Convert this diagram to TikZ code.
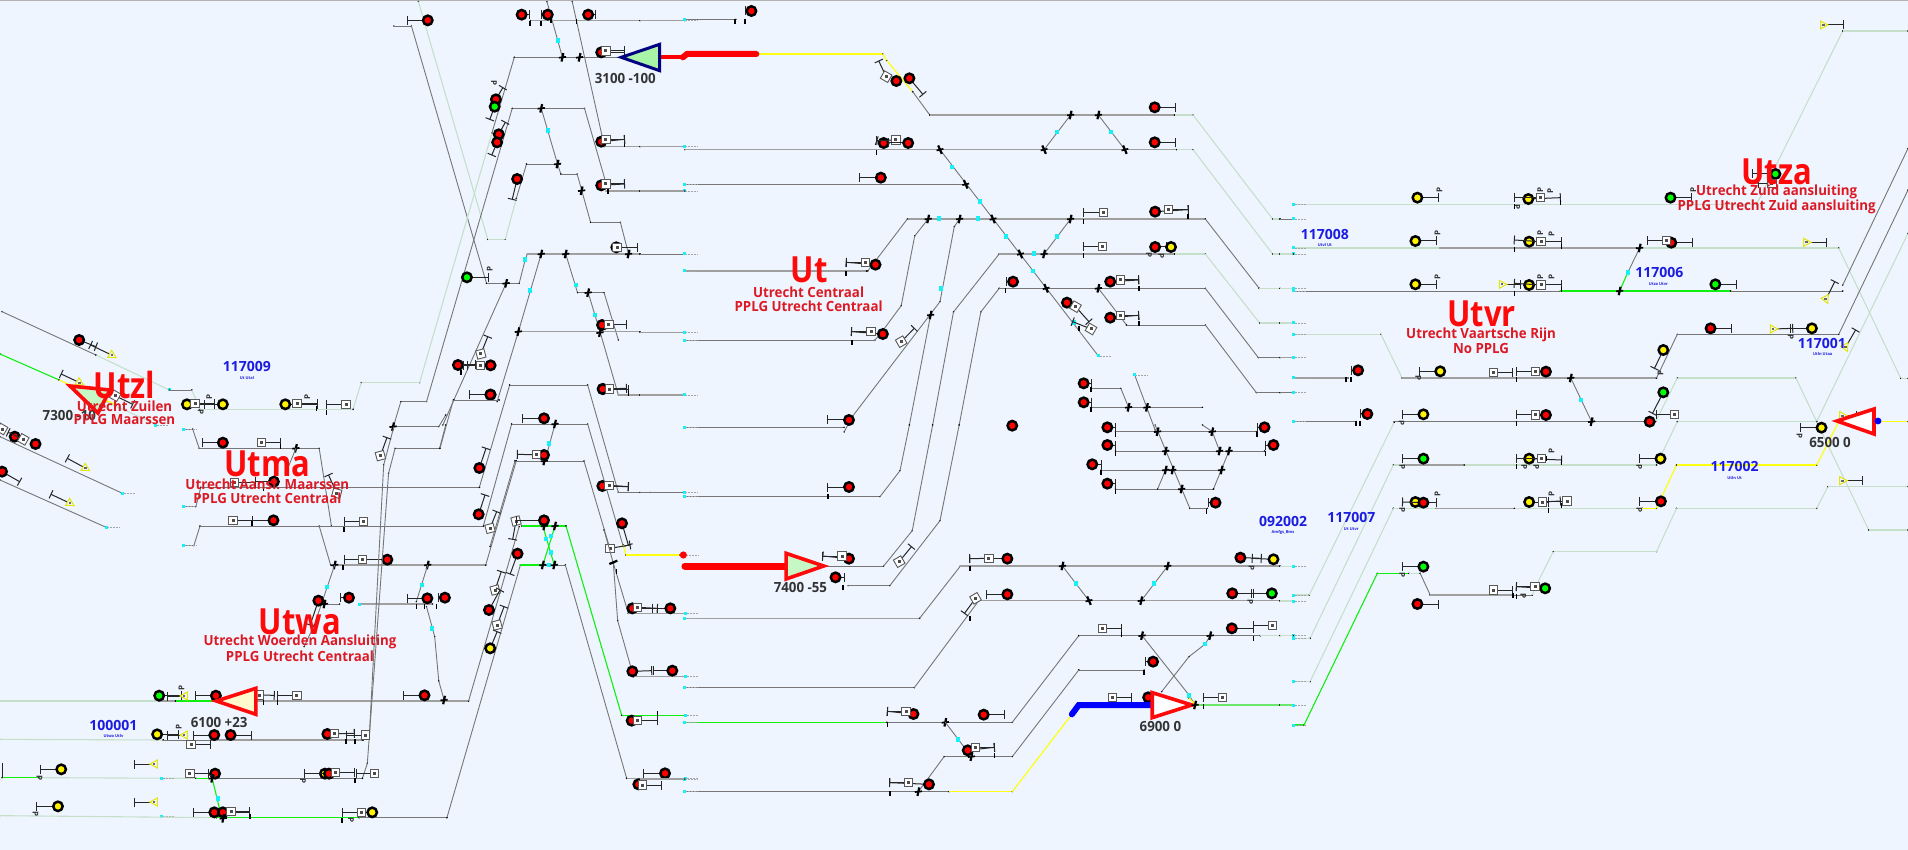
\documentclass[tikz,border=0pt]{standalone}
\usepackage{fontspec}
\setmainfont{Open Sans}
\newfontfamily\hd{Open Sans}[FakeStretch=.86]
\newfontfamily\hs{Open Sans}[FakeStretch=.95]
\usetikzlibrary{calc}
\definecolor{bgc}{HTML}{EEF5FF}
\definecolor{palec}{HTML}{C6DFCB}
\definecolor{trkc}{HTML}{767676}
\definecolor{grn}{HTML}{10F010}
\definecolor{yel}{HTML}{FFFF10}
\definecolor{redc}{HTML}{FF0A0A}
\definecolor{subr}{HTML}{DC1A24}
\definecolor{bluet}{HTML}{1C1CE0}
\definecolor{cyn}{HTML}{18F0F8}
\newcount\nc
\tikzset{
 tile/.style 2 args={shift={(#1pt,-#2pt)},x=0.40816pt,y=-0.33333pt},
 tilb/.style 2 args={shift={(#1pt,-#2pt)},x=0.40051pt,y=-0.33333pt},
 zm/.style 2 args={shift={(#1pt,-#2pt)},x=0.33333pt,y=-0.33333pt},
 trk/.style={draw=trkc,line width=.9pt},
 trw/.style={draw=trkc!70,line width=1.5pt},
 pal/.style={draw=palec,line width=1.1pt},
 gln/.style={draw=grn,line width=1.1pt},
 yln/.style={draw=yel,line width=1.2pt},
 stm/.style={draw=black!85,line width=1pt},
 sw/.style={draw=black,line width=2.2pt},
 sig/.style={circle,draw=black,line width=2.5pt,minimum size=9.4pt,inner sep=0pt},
 sqr/.style={rectangle,draw=black!65,fill=white,line width=.9pt,minimum size=8.5pt,inner sep=0pt},
 title/.style={font=\hd\fontsize{36}{36}\selectfont\bfseries,text=redc,inner sep=0pt},
 subt/.style={font=\hs\fontsize{14}{14}\selectfont\bfseries,text=subr,inner sep=0pt},
 numt/.style={font=\fontsize{14}{14}\selectfont\bfseries,text=bluet,inner sep=0pt},
 tinyt/.style={font=\fontsize{4}{4}\selectfont\bfseries,text=bluet,inner sep=0pt},
 dark/.style={font=\hs\fontsize{14}{14}\selectfont\bfseries,text=black!80,inner sep=0pt},
 bigt/.style={draw=redc,line width=3.6pt},
 pmark/.style={font=\fontsize{8}{8}\selectfont\bfseries,text=black!80,inner sep=0pt},
}
\newcommand\Nx{\global\advance\nc by 1 }
\newcommand\Tx[3]{\Nx\node[#1] (n\the\nc) at (#2) {#3};}
\newcommand\Tr[2][trk]{\foreach \p [count=\i] in {#2}{\ifnum\i>1 \draw[#1] \q -- \p;\fi
  \fill[black] \p circle[radius=.8pt]; \xdef\q{\p}}}
\newcommand\Stem[2]{\draw[stm] (#1) -- (#2);
  \draw[stm] ($(#2)!4.5pt!90:(#1)$) -- ($(#2)!4.5pt!-90:(#1)$);}
\newcommand\Sn[2]{\Tx{sig,fill=#2}{#1}{}}
\newcommand\Sg[3]{\Stem{#1}{#2}\Sn{#1}{#3}}
\newcommand\Sq[3][0]{\Stem{#2}{#3}\Tx{sqr,rotate=#1}{#2}{}\fill[black!70] (#2) ++(-1.5pt,-1.5pt) rectangle ++(3pt,3pt);}
\newcommand\Tt[3][0]{\Stem{#2}{#3}\draw[draw=yel!90!black,fill=bgc,line width=1pt,shift={(#2)},rotate=#1] (-3pt,4pt)--(4.5pt,0)--(-3pt,-4pt)--cycle;\fill[black!60,shift={(#2)}] (-1.5pt,-1pt) rectangle (1pt,1pt);}
\newcommand\Sw[1]{\draw[sw] (#1) ++(.9pt,4.2pt) -- ++(-1.8pt,-8.4pt);\draw[sw,line width=1.7pt] (#1) ++(-3.6pt,-.4pt) -- ++(7.2pt,.8pt);}
\newcommand\Sv[1]{\draw[sw] (#1) ++(-1.8pt,4.2pt) -- ++(3.6pt,-8.4pt);\draw[sw,line width=1.7pt] (#1) ++(-3.4pt,-.8pt) -- ++(6.8pt,1.6pt);}
\newcommand\Cy[1]{\fill[cyn] (#1) ++(-2pt,-2.4pt) rectangle ++(4pt,4.8pt);}
\newcommand\Ce[1]{\draw[black!35,line width=.5pt,densely dotted] (#1) -- ++(13pt,0);\fill[cyn] (#1) ++(-1.5pt,-1.5pt) rectangle ++(3pt,3pt);}
\newcommand\Tk[1]{\draw[black,line width=1.5pt] (#1) ++(0,2.5pt) -- ++(0,-5pt);}
\newcommand\Pm[1]{\Tx{rotate=90,pmark}{#1}{P}}
\newcommand\Dm[1]{\Tx{rotate=-90,pmark}{#1}{P}}
\begin{document}
\begin{tikzpicture}[x=1pt,y=-1pt]
\useasboundingbox (0,0) rectangle (1908,850);
\fill[bgc] (0,0) rectangle (1908,850);
\fill[black!30] (0,0) rectangle (1908,1.4);

%%%%% TILE 1
\begin{scope}[tile={0}{0}]
\Tr{(965,78),(1008,78),(1192,850),(1272,850),(1287,778),(1292,762)}
\Tr[pal]{(1025,5),(1195,718),(1238,718),(1265,595)}
\Tr{(1265,595),(1290,492),(1372,492)}
\Tr{(1374,522),(1366,492)}
\Tr{(1374,522),(1414,522),(1447,667),(1520,667),(1540,762)}
\Tr{(1326,325),(1366,492)}
\Tr{(1340,5),(1378,172)}
\Tr{(1402,5),(1480,435)}
\Tr{(1260,172),(1530,172)}
\Tr{(1260,172),(1205,400)}\Tr[pal]{(1205,400),(1028,1148),(885,1148),(865,1228)}
\Tr{(1255,325),(1432,325),(1490,572)}
\Tr{(1255,325),(1045,1205),(982,1205),(965,1275)}
\Tr[trw]{(1300,62),(1568,62)}
\Tr[trw]{(1480,440),(1568,440)}
\Tr[trw]{(1485,573),(1568,573)}
\Tr[trw]{(1292,762),(1568,762)}
\Tr{(1386,762),(1415,878),(1480,878),(1515,1020)}
\Tr{(1441,878),(1470,995),(1515,1185)}
\Tr[trw]{(1515,1185),(1568,1185)}
\Tr[trw]{(1270,995),(1568,995)}
\Tr{(1326,762),(1270,995),(1218,1205)}
\Tr{(1240,850),(1112,1200),(1085,1275)}
\Tr{(1112,1200),(1222,1200)}
\Tr[pal]{(235,1065),(415,1170)}
\Tr{(5,935),(235,1065)}
\Ce{415,1170}
\Tr{(415,1170),(470,1170)}
\Tr[pal]{(470,1170),(490,1228),(865,1228)}
\Tr[gln]{(0,1062),(145,1140)}
\Tr[yln]{(145,1140),(190,1165)}
\Tr[pal]{(250,1200),(380,1272)}
\Tr[yln]{(240,1190),(285,1215)}
\foreach \a/\b in {1366/121,1343/392,1287/778,1298/872,1410/855,1458/945}{\Cy{\a,\b}}
\Sw{1378,172}\Sw{1420,172}\Sw{1326,325}\Sw{1366,492}\Sw{1425,572}\Sw{1326,762}\Sw{1386,762}\Sw{1540,762}\Sw{1240,850}\Sw{1441,878}\Sw{1270,995}\Sw{1470,998}
\Tk{1298,70}\Tk{1326,70}\Tk{1412,65}\Tk{1350,62}\Tk{1490,575}\Tk{1530,435}\Tk{1130,1118}
\Sg{1048,61}{998,61}{red}
\Sg{1278,44}{1298,44}{red}\Sg{1342,44}{1326,44}{red}\Sg{1441,44}{1460,44}{red}
\Sg{1473,157}{1530,157}{red}\Sq{1484,153}{1530,153}
\Sg{1215,298}{1232,263}{red}\Sg{1212,320}{1200,358}{green}
\Dm{1210,250}
\Sg{1222,403}{1238,367}{red}\Sg{1218,427}{1205,465}{red}
\Sg{1267,537}{1255,598}{red}
\Sg{1473,425}{1530,418}{red}\Sq{1484,418}{1530,418}
\Sg{1473,556}{1530,552}{red}\Sq{1484,552}{1530,552}
\Sg{1510,742}{1562,742}{red}\Sq{1512,742}{1562,742}
\Sg{1144,832}{1196,832}{green}\Pm{1200,808}
\Sq[15]{1178,1062}{1195,1010}
\Sg{1122,1095}{1165,1095}{red}\Sg{1202,1096}{1145,1096}{red}\Sq{1177,1096}{1135,1096}
\Sg{1202,1184}{1150,1184}{red}
\Sg{1475,975}{1535,975}{red}\Sq{1492,973}{1535,973}
\Sg{1477,1167}{1535,1165}{red}\Sq{1492,1165}{1535,1165}
\Sg{194,1020}{235,1040}{red}\Tt[-30]{275,1066}{222,1035}
\Tt[-30]{195,1148}{150,1122}
\Sq[-30]{282,1187}{325,1213}
\Sg{458,1213}{525,1213}{yellow}\Sq{478,1210}{525,1210}\Pm{513,1190}\Dm{492,1235}
\Sg{546,1213}{500,1213}{yellow}
\Sg{699,1213}{778,1213}{yellow}\Sq{728,1210}{778,1210}\Pm{753,1190}\Tk{775,1225}
\Sq{848,1213}{800,1213}\Tk{800,1238}
\Tx{numt}{605,1100}{117009}
\Tx{tinyt}{605,1134}{Ut Utal}
\Tx{dark}{170,1247}{7300 -10}
\end{scope}

%%%%% TILE 2
\begin{scope}[tile={640}{0}]
\Tr[trw]{(0,62),(110,62)}\Tr{(110,58),(235,58)}\Ce{110,60}\Tk{233,65}\Tk{257,65}
\Sg{273,33}{258,33}{red}
\Tr[yln]{(285,162),(595,162),(605,182),(668,275)}
\Tr{(668,275),(710,345)}
\Tr[trw]{(710,345),(1310,345)}\Tr[pal]{(1310,345),(1355,345),(1550,657),(1568,657)}
\Sq[-30]{603,230}{585,183}
\Sn{628,243}{red}
\Sg{660,235}{693,283}{red}
\Tr[trw]{(0,440),(110,440)}\Ce{110,440}
\Tr[trw]{(110,449),(1315,449)}\Tr[pal]{(1315,449),(1355,449),(1550,762),(1568,762)}
\Sg{597,429}{580,422}{red}\Sq{627,420}{580,422}\Sg{657,429}{610,429}{red}\Tk{580,458}
\Tr{(1055,345),(990,449)}\Tr{(1123,345),(1188,449)}
\Cy{1022,396}\Cy{1155,396}
\Sg{1261,322}{1313,322}{red}\Sg{1261,427}{1313,427}{red}
\Tr{(735,449),(1123,1068)}\Ce{1123,1068}
\Tr{(110,553),(798,553)}\Ce{110,553}\Ce{110,573}\Tr[trw]{(0,573),(110,573)}
\Sg{590,533}{538,533}{red}
\Tr[trw]{(655,657),(1385,657)}\Tr{(1385,657),(1517,865)}\Tr[pal]{(1517,865),(1568,865)}
\Tr{(655,657),(558,813)}
\Tr{(0,762),(110,762)}\Ce{110,762}
\Tr[trw]{(110,813),(555,813)}\Ce{110,813}
\Sg{577,794}{505,787}{red}\Sq{552,787}{505,787}\Tk{505,820}
\Tr{(706,657),(673,708),(640,917),(590,1000),(575,1021),(110,1021)}\Ce{110,1021}
\Tr[trw]{(0,997),(110,997)}\Ce{110,997}
\Sg{595,1002}{518,995}{red}\Sq{566,995}{518,995}\Tk{519,1028}
\Tr{(783,657),(770,680),(735,905),(520,1250),(500,1296)}
\Tr{(712,945),(660,1275)}
\Tr[trw]{(0,1185),(110,1185)}\Ce{110,1185}
\Cy{738,866}
\Sw{712,945}
\Sq[30]{640,1025}{672,985}
\Tr{(880,762),(768,936),(717,1275)}
\Tr{(880,865),(835,936),(782,1275)}
\Tr[trw]{(880,762),(1310,762)}\Tr[pal]{(1310,762),(1385,762),(1518,969),(1568,969)}
\Tr{(1055,657),(990,762)}
\Tr{(880,865),(1385,865),(1515,1073),(1568,1073)}
\Tr{(1123,865),(1192,975),(1385,975),(1510,1178),(1568,1178)}
\foreach \a/\b in {765/501,833/605,897/709,962/813,732/655,828/655,1022/709,965/760,1063/968}{\Cy{\a,\b}}
\foreach \a/\b in {735/449,990/449,1188/449,798/553,865/657,932/762,995/865}{\Sv{\a,\b}}
\Sw{1055,345}\Sw{1123,345}\Sw{706,657}\Sw{783,657}\Sw{1055,657}\Sw{990,762}\Sw{1123,865}
\Sq{1135,637}{1087,637}\Tk{1087,665}
\Sq{1133,740}{1087,740}\Tk{1087,768}
\Sg{1262,635}{1343,629}{red}\Sq{1295,629}{1343,629}\Tk{1343,650}
\Sg{1262,741}{1290,741}{red}\Sn{1301,741}{yellow}\Dm{1247,765}\Dm{1277,768}
\Sg{914,845}{897,845}{red}\Tk{895,872}
\Sg{1152,845}{1222,840}{red}\Sq{1177,840}{1222,840}\Tk{1222,865}
\Sg{1152,953}{1222,946}{red}\Sq{1177,946}{1222,946}\Tk{1222,970}
\Sn{1046,908}{red}\Sq[-30]{1067,920}{1100,965}
\Sq[-30]{1105,987}{1060,965}\Tk{1075,985}
\Tr{(1105,1165),(1178,1165),(1197,1222)}
\Tr{(1105,1222),(1378,1222)}
\Tr{(1212,1125),(1262,1290)}\Ce{1212,1125}
\Sg{1087,1150}{1105,1150}{red}\Sg{1087,1207}{1105,1207}{red}\Sw{1197,1222}\Sw{1242,1222}
\Tk{1105,1170}\Tk{1105,1228}
\Sn{912,1277}{red}\Sg{512,1260}{460,1260}{red}
\end{scope}

%%%%% TILE 3
\begin{scope}[tilb={1280}{0}]
\Tr[pal]{(33,613),(1190,613),(1405,93),(1568,93)}
\Tr{(0,657),(33,657)}\Ce{33,657}
\Tr[pal]{(33,744),(1395,744),(1550,1135),(1568,1135)}
\Tr[trw]{(400,744),(890,744)}
\Ce{33,613}\Ce{33,744}\Ce{33,762}\Tr[pal]{(0,762),(33,762)}
\Tr[trk]{(33,873),(700,873)}\Tr[gln]{(700,873),(1125,873)}\Tr{(1125,873),(1405,873)}
\Tr[pal]{(0,865),(33,865)}\Ce{33,865}\Ce{33,873}
\Tr[gln]{(848,873),(868,818)}\Tr{(868,818),(898,744)}\Cy{868,818}
\Sw{848,873}\Sw{898,744}
\Tr{(1405,855),(1568,445)}
\Tr[pal]{(0,969),(33,969)}\Ce{33,969}
\Tr[pal]{(33,1003),(252,1003),(305,1134)}\Ce{33,1003}
\Tr[trw]{(0,1073),(33,1073)}\Ce{33,1073}
\Tr[trw]{(33,1134),(170,1134)}\Ce{33,1134}
\Tr{(0,1178),(33,1178)}\Ce{33,1178}
\Tr[trw]{(305,1134),(940,1134)}
\Tr{(940,1134),(992,1003),(1395,1003),(1568,570)}
\Tr[trk]{(33,1265),(190,1265)}\Ce{33,1265}
\Tr[trk]{(285,1265),(920,1265)}
\Tr[pal]{(992,1265),(1340,1265)}
\Tr[pal]{(992,1134),(1288,1134),(1340,1265),(1568,700)}
\Tr[pal]{(992,1134),(938,1265)}
\Tr[pal]{(992,1265),(940,1395)}
\Tr[pal]{(1340,1265),(1470,1590),(1568,1590)}
\Tr{(726,1134),(778,1265)}\Cy{752,1200}
\Sw{726,1134}\Sw{778,1265}
\Tr{(1178,550),(1235,550)}
\Sg{343,593}{395,593}{yellow}\Pm{398,570}
\Sg{620,597}{700,593}{yellow}\Sq{650,593}{585,593}\Pm{675,573}\Pm{650,570}\Dm{592,620}\Tk{585,620}\Tk{700,608}
\Sg{975,593}{1028,593}{green}\Pm{1032,570}
\Sg{1237,522}{1180,522}{green}\Sq{1228,550}{1195,550}
\Tt{1357,75}{1408,75}
\Sg{338,723}{390,723}{yellow}\Pm{393,700}
\Sg{622,725}{703,725}{yellow}\Sq{652,725}{585,720}\Pm{678,703}\Pm{650,700}\Tk{585,750}\Tk{703,740}
\Sg{977,728}{1030,728}{red}\Sq{965,722}{918,722}
\Tt{1315,727}{1365,727}
\Sg{338,853}{390,853}{yellow}\Pm{393,830}
\Tt{555,853}{600,853}
\Sg{622,855}{703,855}{yellow}\Sq{652,855}{585,850}\Pm{678,832}\Pm{650,830}\Tk{585,880}\Tk{703,868}
\Sg{1087,853}{1140,853}{green}
\Tt[-65]{1363,898}{1385,845}
\Sg{195,1111}{178,1111}{red}\Tk{165,1140}\Tk{177,1140}
\Sg{400,1114}{348,1114}{yellow}\Dm{345,1135}
\Sq{533,1118}{580,1118}
\Sg{664,1115}{590,1115}{red}\Sq{638,1115}{590,1115}\Tk{590,1140}
\Sg{957,1050}{935,1105}{yellow}\Pm{950,1118}
\Sg{1075,985}{1128,985}{red}
\Tt{1232,987}{1280,985}
\Sg{1328,985}{1275,985}{yellow}\Dm{1275,1010}
\Tt[-65]{1412,1042}{1437,990}
\Sg{218,1242}{200,1242}{red}\Tk{190,1270}\Tk{200,1270}
\Sg{358,1243}{305,1243}{yellow}\Dm{303,1268}
\Sg{664,1245}{590,1245}{red}\Sq{638,1245}{590,1245}\Tk{590,1270}
\Sq{985,1243}{940,1243}
\Sg{957,1177}{930,1240}{green}
\Sn{923,1265}{red}
\Tt{1405,1247}{1440,1247}
\Tr[yln]{(1493,1265),(1568,1265)}
\Tx{numt}{112,702}{117008}\Tx{tinyt}{112,735}{Utvl Ut}
\Tx{numt}{947,818}{117006}\Tx{tinyt}{945,852}{Utza Utvr}
\Tx{numt}{1353,1030}{117001}\Tx{tinyt}{1355,1062}{Utln Utaa}
\end{scope}

%%%%% TILE 4
\begin{scope}[tile={0}{425}]
\Tr{(0,35),(300,205)}\Ce{300,205}
\Tr{(0,165),(262,308)}\Ce{262,308}
\Ce{380,0}
\Sn{36,35}{red}\Sq[-30]{57,43}{20,22}\Sn{87,57}{red}\Sq[-30]{5,12}{-5,5}
\Tt[-30]{210,130}{165,100}
\Sg{5,140}{48,170}{red}\Tt[-30]{172,235}{125,208}
\Tr{(450,12),(472,12),(488,70),(782,70),(812,303)}\Ce{450,12}
\Tr{(450,245),(480,245),(492,187)}\Ce{450,245}
\Tr{(450,362),(475,362),(490,303),(1185,303)}\Ce{450,362}
\Tr{(492,187),(1175,187)}
\Sg{546,53}{495,53}{red}\Sq{640,52}{687,52}\Tk{687,65}
\Sw{725,70}\Tr{(725,70),(700,145)}
\Sg{671,170}{625,170}{red}\Sq{575,172}{625,172}\Tk{625,180}\Tk{645,190}
\Sg{670,286}{618,286}{red}\Sq{571,286}{618,286}\Tk{618,295}
\Sq[-15]{825,205}{805,150}
\Sq{890,290}{843,290}\Tk{843,312}
\Tr{(782,303),(810,420)}
\Tr[trw]{(820,420),(1190,420)}\Sw{820,420}\Sw{1048,420}
\Sg{949,404}{843,404}{red}\Sq{888,404}{843,404}\Tk{840,428}
\Tr{(820,420),(770,600),(745,665)}\Cy{800,486}
\Sg{780,527}{760,600}{red}\Sg{855,518}{835,518}{red}
\Tr{(795,537),(832,537)}\Sw{795,537}
\Tr[trw]{(880,537),(1060,537)}\Ce{880,537}
\Tr{(1048,420),(1020,530)}\Cy{1035,480}
\Tr{(1045,545),(1065,635),(1075,768),(1088,825)}\Cy{1058,610}
\Sg{1047,520}{998,520}{red}\Sg{1090,518}{1075,518}{red}\Tk{1020,545}\Tk{1040,545}\Tk{1070,545}
\Tr[pal]{(0,828),(390,828)}\Tr[trw]{(390,828),(430,828)}\Tr[gln]{(430,828),(525,828)}\Tr[trw]{(630,828),(1148,828)}
\Sg{390,812}{445,812}{green}\Pm{445,790}\Tt[180]{452,813}{410,813}
\Sg{529,812}{478,812}{red}
\Sq{727,811}{680,811}\Sq{635,810}{672,811}\Tk{645,832}\Tk{680,832}
\Sg{1040,811}{988,811}{red}\Sw{1088,825}
\Tr{(1148,828),(1272,305)}
\Tr{(1095,1178),(1275,420)}
\Tr{(1190,420),(1265,107)}
\Tr{(965,5),(1075,5),(1092,-30)}\Sw{963,5}
\Tr{(965,5),(940,120),(905,930),(890,945)}
\Tr{(1077,70),(968,70),(952,145),(900,1015),(888,1060)}\Tr{(1077,70),(1092,0)}
\Sq[15]{932,92}{948,38}
\Tr[pal]{(0,943),(400,945)}\Tr{(400,945),(530,945)}\Tr[trw]{(530,945),(888,945)}
\Sg{385,928}{438,928}{yellow}\Pm{438,905}\Tt[180]{452,930}{410,930}
\Sg{525,930}{475,930}{red}\Sq{468,958}{515,958}\Sg{565,930}{615,930}{red}
\Sg{802,927}{868,925}{red}\Sq{820,925}{868,925}\Sq{895,930}{850,930}\Tk{848,950}\Tk{870,950}
\Tr[gln]{(5,1058),(95,1058)}\Tr[pal]{(95,1058),(480,1060)}\Tr[gln]{(480,1060),(520,1060)}\Tr[trk]{(520,1060),(888,1060)}
\draw[stm] (5,1015)--(5,1060);
\Ce{395,1060}\Ce{395,1175}
\Sg{150,1033}{100,1033}{yellow}\Dm{97,1058}
\Tt[180]{378,1017}{330,1017}
\Sg{527,1046}{465,1046}{red}\Sq{465,1046}{510,1046}\Dm{520,1055}
\Sn{796,1046}{yellow}\Sg{806,1046}{745,1046}{red}\Sq{822,1042}{868,1042}\Dm{742,1068}
\Sq{918,1046}{873,1046}\Tk{870,1065}
\Tr[gln]{(520,1060),(543,1178)}\Cy{535,1120}\Sw{520,1060}
\Tr[pal]{(0,1172),(530,1178)}\Tr[gln]{(530,1178),(880,1178)}\Tr{(880,1178),(1095,1178)}
\Sg{142,1144}{90,1144}{yellow}\Dm{87,1167}
\Tt[180]{378,1131}{330,1131}
\Sg{525,1162}{475,1162}{red}\Sg{546,1162}{612,1162}{red}\Sq{566,1160}{612,1160}\Sw{547,1180}\Tk{612,1175}
\Sg{912,1162}{840,1162}{yellow}\Sq{885,1162}{840,1162}\Dm{860,1185}\Tk{838,1185}
\Sq[15]{1213,495}{1228,440}\Sg{1198,555}{1225,495}{red}
\Sq[15]{1218,600}{1235,545}\Sg{1201,670}{1218,620}{yellow}
\Sg{1268,386}{1250,447}{red}
\Tr[gln]{(1275,420),(1330,420)}\Tr{(1330,420),(1385,420)}
\Tr[gln]{(1330,303),(1358,420)}\Tr[gln]{(1360,303),(1330,420)}
\foreach \a/\b in {1338/342,1350/333,1350/383,1345/420}{\Cy{\a,\b}}
\Sw{1330,420}\Sw{1358,420}
\Tx{numt}{278,900}{100001}\Tx{tinyt}{278,934}{Utwa Utlv}
\end{scope}

%%%%% cluster x 440..650, y 380..550
\begin{scope}[zm={440}{380}]
\Tr{(209,15),(118,322)}\Tr{(209,15),(443,15)}
\Tr{(443,15),(535,337),(630,337)}
\Tr{(215,132),(130,438)}\Tr{(215,132),(443,132),(550,500)}
\Tr{(225,243),(432,243),(508,500)}
\Tr{(225,243),(150,500)}
\Tr[gln]{(245,438),(378,438)}
\Tr{(345,132),(315,243)}\Cy{326,190}
\Sw{345,132}\Sw{313,243}\Sw{345,438}\Sw{313,438}
\Sg{151,44}{88,44}{red}\Tr{(40,60),(178,60)}\Tr{(40,60),(0,205)}
\Sg{312,115}{248,115}{red}
\Sg{312,225}{232,223}{red}\Sq{290,223}{232,223}
\Sg{488,27}{565,27}{red}\Sq{508,27}{565,27}\Tk{565,40}
\Sg{487,318}{565,320}{red}\Sq{507,316}{565,320}
\Sg{546,430}{565,495}{red}
\Sg{118,264}{138,205}{red}\Sg{116,403}{135,345}{red}
\Sq[15]{150,445}{170,395}
\Sq[15]{228,423}{218,478}
\Sg{312,421}{228,421}{red}
\end{scope}

%%%%% cluster x 580..710, y 530..810
\begin{scope}[zm={580}{530}]
\Tr[yln]{(130,45),(138,75),(300,75)}
\fill[red] (310,75) circle[radius=3.6pt];
\draw[black!35,line width=.5pt,densely dotted] (322,75) -- ++(12pt,0);
\Sq{90,55}{150,45}
\Tr{(72,0),(100,100),(145,250)}\Tr[trw]{(145,250),(315,250)}\Ce{315,250}
\Tr{(100,100),(113,272),(155,420),(160,440)}\Tr[trw]{(160,440),(315,440)}\Ce{315,440}
\Tr[gln]{(-42,-12),(125,556),(315,556)}\Ce{315,556}
\Tr{(-44,105),(140,745)}\Tr[trw]{(140,745),(315,745)}\Ce{315,745}
\draw[sw] (88,102)--(112,92);\Tk{110,125}
\Sg{157,235}{232,235}{red}\Sq{173,232}{232,235}\Sg{271,235}{218,235}{red}
\Sg{157,424}{215,422}{red}\Sg{277,422}{220,422}{red}
\Sg{155,572}{232,572}{red}\Sq{173,572}{232,572}\Tk{232,550}
\Sg{255,730}{190,730}{red}
\Sn{175,763}{red}\Sq{187,765}{245,765}
\end{scope}

%%%%% TILE 5
\begin{scope}[tile={640}{425}]
\Tr{(110,7),(500,7)}\Ce{110,7}
\Tr{(0,202),(110,202)}\Ce{110,202}
\Tr{(110,215),(588,215),(637,137),(660,0)}\Ce{110,215}
\Sg{512,186}{460,186}{red}\Tk{460,215}
\Tr{(450,423),(597,423),(667,317),(717,0)}
\Sg{512,401}{448,393}{red}\Sq{495,393}{448,393}
\Sg{479,457}{500,457}{red}\Tk{497,487}
\Tr{(510,482),(612,482),(735,287),(782,0)}
\Sq[30]{635,410}{665,365}
\Tr[trw]{(110,580),(685,580)}\Ce{110,580}
\Tr{(685,580),(785,423)}
\Tr[trw]{(785,423),(1568,423)}
\Sg{900,401}{808,401}{red}\Sq{855,400}{808,401}\Tk{808,430}
\Sg{1471,398}{1522,400}{red}\Sg{1552,403}{1500,400}{yellow}\Dm{1498,428}
\Tr{(110,788),(672,788),(830,527)}\Ce{110,788}
\Tr[trw]{(830,527),(1568,527)}
\Sg{900,508}{850,508}{red}
\Sq[30]{822,520}{795,565}\Tk{808,580}
\Sg{1451,505}{1503,505}{red}\Sg{1548,505}{1498,505}{green}\Dm{1495,530}
\Tr{(1035,423),(1100,527)}\Cy{1067,475}\Tr{(1293,423),(1228,527)}\Cy{1260,475}
\Tr[gln]{(110,892),(605,892)}\Ce{110,892}
\Tr{(605,892),(912,892),(1075,632)}\Tr{(1075,632),(1520,632)}\Tr[pal]{(1520,632),(1568,632)}
\Sq{1133,610}{1180,610}\Tk{1180,628}
\Sg{1450,610}{1503,610}{red}\Sq{1549,602}{1503,602}\Tk{1503,640}
\Tr{(1075,735),(1235,735)}\Tr{(1075,735),(912,995),(745,995),(682,1100)}
\Sg{1257,710}{1238,710}{red}\Tk{1235,742}
\Tr{(1397,632),(1385,657),(1345,695),(1278,800)}\Cy{1384,657}
\Tr{(1230,632),(1345,810),(1360,840)}\Cy{1345,812}
\Sw{1035,423}\Sw{1293,423}\Sv{1100,527}\Sw{1228,527}\Sw{1230,632}\Sw{1397,632}
\Tr{(110,1100),(757,1100)}\Ce{110,1100}\Ce{110,1062}
\Tr[trw]{(0,1062),(110,1062)}
\Tr[yln]{(757,1100),(912,1100),(1058,868)}
\Tr[yln]{(1345,820),(1360,838)}
\Sq{1157,817}{1205,817}\Sn{1245,817}{red}
\Sq{1427,817}{1380,817}\Tk{1380,845}
\Tr[draw=grn!50!palec,line width=1.5pt]{(1360,840),(1568,840)}
\Sg{708,1078}{612,1073}{red}\Sq{658,1073}{612,1073}\Tk{612,1105}
\Sw{682,1100}\Sw{812,995}\Sw{748,892}
\Tr{(748,892),(812,995)}\Cy{780,943}
\Sg{803,976}{868,967}{red}\Sq{822,967}{868,967}\Tk{868,990}
\Sg{670,867}{606,859}{red}\Sq{652,859}{606,859}\Tk{606,898}
\Sg{842,869}{893,869}{red}
\Tr{(1165,20),(1510,20)}\Tr{(1165,78),(1530,78)}\Tr{(1130,135),(1425,135)}\Tr{(1165,192),(1405,192)}
\Tr{(1262,0),(1347,250),(1390,250)}
\Tr{(1378,0),(1402,20),(1420,78)}
\Tr{(1443,78),(1405,192)}\Tr{(1288,135),(1268,192)}
\Sw{1268,20}\Sw{1402,20}\Sw{1288,78}\Sw{1420,78}\Sw{1443,78}\Sw{1288,135}\Sw{1305,135}\Sw{1425,135}\Sw{1327,192}
\Sg{1145,7}{1165,7}{red}\Sg{1145,60}{1165,60}{red}\Sg{1108,118}{1130,118}{red}\Sg{1145,176}{1165,176}{red}
\Sg{1530,7}{1512,7}{red}\Sg{1552,60}{1533,60}{red}
\Sg{1410,233}{1392,233}{red}\Tk{1388,258}
\Tk{1165,28}\Tk{1165,85}\Tk{1130,142}\Tk{1165,200}\Tk{1512,28}\Tk{1533,85}
\end{scope}

%%%%% TILE 6
\begin{scope}[tilb={1280}{425}]
\Tr[pal]{(283,120),(940,120)}\Tr[trw]{(310,120),(460,120)}
\Tr[pal]{(283,120),(75,640)}\Tr[pal]{(75,640),(33,640)}\Ce{33,640}\Ce{33,632}\Tr[pal]{(0,632),(33,632)}
\Tr[pal]{(33,510),(73,510),(285,-8)}\Ce{33,510}\Tr[pal]{(0,528),(33,528)}\Ce{33,528}
\Tr[pal]{(0,424),(33,424)}\Ce{33,424}
\Tr[pal]{(283,250),(75,770),(33,770)}\Ce{33,770}
\Tr[pal]{(283,250),(905,250)}\Tr[trw]{(390,250),(585,250)}
\Tr[yln]{(905,250),(940,250),(990,120),(1340,120),(1395,-10)}
\Tr[pal]{(990,250),(1340,250),(1368,185),(1568,185)}
\Tr[pal]{(990,250),(940,380),(682,380),(640,480)}
\Tr[draw=grn!50!palec,line width=1.5pt]{(0,840),(33,840)}\Ce{33,840}
\Tr[gln]{(33,900),(60,900),(243,445),(322,445)}\Ce{33,900}
\Tr[pal]{(322,445),(350,445)}\Tr{(350,445),(375,510)}\Tr[trw]{(375,510),(582,510)}\Tr{(582,510),(630,510)}\Tr[pal]{(630,510),(640,480)}
\Sg{358,101}{306,101}{green}\Dm{305,125}
\Sg{622,101}{703,105}{yellow}\Sq{653,101}{590,101}\Pm{678,78}\Tk{590,125}\Tk{665,101}\Tk{703,112}\Dm{610,125}\Dm{640,125}
\Sg{950,101}{898,101}{yellow}\Dm{897,125}
\Sg{338,231}{390,231}{yellow}\Sg{358,233}{306,231}{red}\Pm{393,208}\Dm{305,255}
\Sg{622,231}{670,231}{yellow}\Sq{655,231}{700,228}\Sq{717,228}{670,228}\Pm{678,208}\Tk{670,255}\Tk{703,240}
\Sg{951,229}{898,229}{red}\Dm{897,255}
\Sg{1352,8}{1300,8}{yellow}\Dm{1297,32}
\Tt{1405,167}{1455,167}
\Sg{358,425}{306,425}{green}\Dm{305,450}
\Sg{343,537}{395,537}{red}
\Sq{533,495}{580,495}\Tk{582,512}
\Sg{662,490}{590,485}{green}\Sq{637,485}{590,485}\Tk{590,515}\Dm{607,513}
\Tx{numt}{1135,123}{117002}\Tx{tinyt}{1135,158}{Utln Ut}
\Tx{numt}{178,277}{117007}\Tx{tinyt}{178,312}{Ut Utvr}
\end{scope}

%%%%% thick occupied sections and big triangles
\begin{scope}[tile={640}{0}]
\draw[red,line width=4pt] (50,172)--(105,172);
\draw[red,line width=6pt,line cap=round] (105,172)--(115,162)--(285,162);
\filldraw[draw={rgb,255:red,0;green,0;blue,128},line width=3pt,fill={rgb,255:red,168;green,245;blue,168}] (48,133)--(48,212)--(-46,172)--cycle;
\end{scope}
\begin{scope}[tile={640}{425}]
\draw[red,line width=7pt,line cap=round] (110,423)--(360,423);
\filldraw[bigt,fill={rgb,255:red,198;green,248;blue,198}] (358,385)--(358,462)--(450,423)--cycle;
\draw[blue,line width=6pt,line cap=round] (1058,868)--(1075,840)--(1255,840);
\filldraw[bigt,fill=white] (1255,803)--(1255,878)--(1352,840)--cycle;
\Tk{1380,845}\Sw{1360,840}
\Tx{dark}{393,487}{7400 -55}
\Tx{dark}{1275,903}{6900 0}
\end{scope}
\filldraw[bigt,fill={rgb,255:red,198;green,248;blue,198}] (70,386)--(110,390)--(98,413)--cycle;
\filldraw[bigt,fill=white] (1837,421)--(1874,409)--(1874,434)--cycle;
\fill[blue] (1878,421) circle[radius=3.4pt];
\begin{scope}[tile={0}{425}]
\filldraw[bigt,fill={rgb,255:red,255;green,250;blue,205}] (530,828)--(627,790)--(627,868)--cycle;
\Tx{dark}{537,893}{6100 +23}
\Tx{title}{655,115}{Utma}
\Tx{subt}{655,178}{Utrecht Aansl. Maarssen}
\Tx{subt}{655,220}{PPLG Utrecht Centraal}
\Tx{title}{735,590}{Utwa}
\Tx{subt}{735,652}{Utrecht Woerden Aansluiting}
\Tx{subt}{735,694}{PPLG Utrecht Centraal}
\end{scope}
\begin{scope}[tile={0}{0}]
\Tx{title}{305,1155}{Utzl}
\Tx{subt}{305,1218}{Utrecht Zuilen}
\Tx{subt}{305,1260}{PPLG Maarssen}
\Tx{dark}{1532,236}{3100 -100}
\end{scope}
\begin{scope}[tile={640}{0}]
\Tx{title}{415,810}{Ut}
\Tx{subt}{413,877}{Utrecht Centraal}
\Tx{subt}{413,919}{PPLG Utrecht Centraal}
\end{scope}
\begin{scope}[tilb={1280}{0}]
\Tx{title}{503,940}{Utvr}
\Tx{subt}{502,1005}{Utrecht Vaartsche Rijn}
\Tx{subt}{502,1047}{No PPLG}
\Tx{title}{1240,516}{Utza}
\Tx{subt}{1240,577}{Utrecht Zuid aansluiting}
\Tx{subt}{1240,620}{PPLG Utrecht Zuid aansluiting}
\end{scope}
\Tx{dark}{1830,442}{6500 0}
\Tx{numt}{1283,521}{092002}
\Tx{tinyt}{1283,532}{Amfgs\_Bms}
\end{tikzpicture}
\end{document}
